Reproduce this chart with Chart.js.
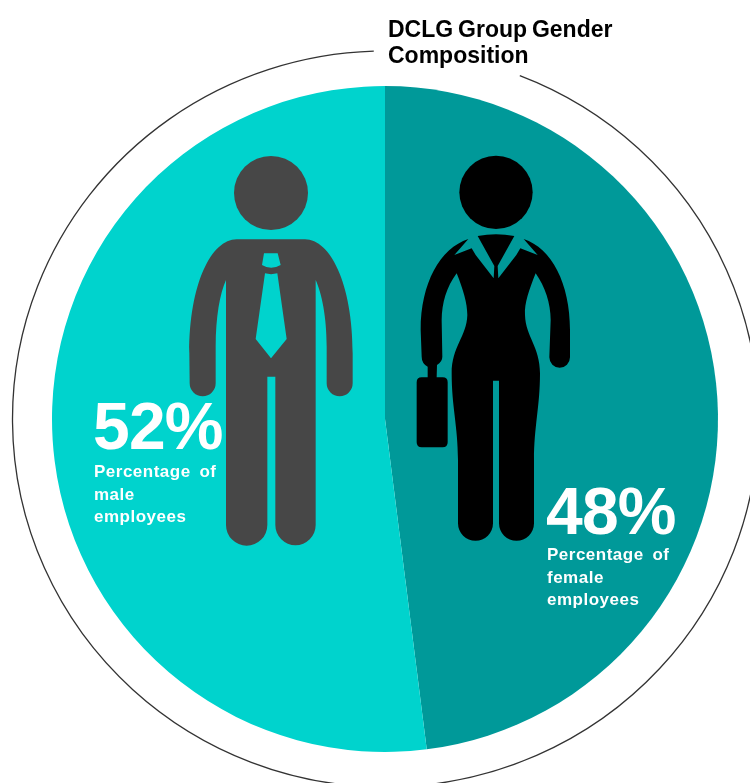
<!DOCTYPE html>
<html>
<head>
<meta charset="utf-8">
<title>DCLG Group Gender Composition</title>
<script src="https://cdn.jsdelivr.net/npm/chart.js@4"></script>
<style>
    html, body { margin: 0; padding: 0; background: #fff; }
    #wrap { position: relative; width: 750px; height: 783px; overflow: hidden; font-family: "Liberation Sans", Arial, sans-serif; font-weight: bold; }
    #wrap canvas { position: absolute; left: 0; top: 0; }
    .title { position: absolute; left: 388px; top: 16px; font-size: 23px; line-height: 26px; word-spacing: -1.5px; color: #000; white-space: nowrap; }
    .big { position: absolute; font-size: 66px; line-height: 66px; letter-spacing: -0.8px; color: #fff; }
    .note { position: absolute; font-size: 17px; line-height: 22.5px; letter-spacing: 0.5px; word-spacing: 3.5px; color: #fff; white-space: nowrap; }
</style>
</head>
<body>
<div id="wrap">
    <canvas id="genderChart" width="750" height="783"></canvas>
    <div class="title">DCLG Group Gender<br>Composition</div>
    <div class="big" id="maleValue" style="left:93px;top:393px"></div>
    <div class="note" style="left:94px;top:461px">Percentage of<br>male<br>employees</div>
    <div class="big" id="femaleValue" style="left:546px;top:478px"></div>
    <div class="note" style="left:547px;top:544px">Percentage of<br>female<br>employees</div>
</div>
<script>
const categories = ["Female", "Male"];
const shares = [48, 52];
const sliceColors = ["#009999", "#00D3CD"];

document.getElementById("femaleValue").textContent = shares[0] + "%";
document.getElementById("maleValue").textContent = shares[1] + "%";

// Icons are laid out on a 3x grid, placed with translate + scale
const manShape = new Path2D(
    "M170,298 L375,298 C450,298 518,430 518,640 L518,730 A39,39 0 0 1 440,730 L440,620 " +
    "C440,530 425,460 407,420 L407,1155 A60,60 0 0 1 286,1155 L286,710 L262,710 L262,1155 " +
    "A62,62 0 0 1 138,1155 L138,420 C120,460 107,530 107,620 L107,730 A39,39 0 0 1 29,730 " +
    "L28,640 C28,430 95,298 170,298 Z " +
    // tie knot and blade are holes in the body
    "M252,340 L293,340 L302,375 Q273,392 246,375 Z " +
    "M255,400 Q273,405 292,400 L320,597 L273,655 L227,597 Z"
);

const womanShape = new Path2D(
    "M190,297 L148,345 L200,325 L212,345 L266,415 L268,378 L218,288 Q273,278 328,288 " +
    "L278,378 L280,415 L334,345 L346,325 L398,345 L356,297 " +
    "C440,325 495,430 495,570 L495,652 A31,31 0 0 1 433,652 L437,540 " +
    "C437,490 420,440 392,400 C372,450 358,490 360,525 C362,590 405,620 405,700 " +
    "C405,800 387,860 387,960 L387,1150 A52.5,52.5 0 0 1 282,1150 L282,722 L264,722 L264,1150 " +
    "A52.5,52.5 0 0 1 159,1150 L159,960 C159,860 140,800 140,700 C140,620 185,590 187,525 " +
    "C187,490 175,450 155,400 C125,440 110,490 110,540 L112,650 Q112,665 96,675 " +
    "L95,712 L113,712 Q128,712 128,727 L128,907 Q128,922 113,922 L50,922 Q35,922 35,907 " +
    "L35,727 Q35,712 50,712 L68,712 L68,680 Q50,670 50,650 L47,570 C47,430 105,325 190,297 Z"
);

function drawIcon(ctx, shape, head, left, top, color) {
    ctx.save();
    ctx.translate(left, top);
    ctx.scale(1 / 3, 1 / 3);
    ctx.fillStyle = color;
    ctx.fill(shape, "evenodd");
    ctx.beginPath();
    ctx.arc(head.x, head.y, head.r, 0, Math.PI * 2);
    ctx.fill();
    ctx.restore();
}

// Thin outer ring with a gap for the heading, plus the two figures on the slices
const decorPlugin = {
    id: "decor",
    afterDatasetsDraw(chart) {
        const ctx = chart.ctx;
        const arc = chart.getDatasetMeta(0).data[0];
        const fromTop = deg => (deg - 90) * Math.PI / 180;

        ctx.save();
        ctx.strokeStyle = "#333";
        ctx.lineWidth = 1.3;
        ctx.beginPath();
        ctx.ellipse(arc.x + 0.5, arc.y, arc.outerRadius + 40, arc.outerRadius + 35, 0, fromTop(21.1), fromTop(358.2));
        ctx.stroke();
        ctx.restore();

        drawIcon(ctx, manShape, { x: 273, y: 159, r: 111 }, 180, 140, "#474747");
        drawIcon(ctx, womanShape, { x: 273, y: 157, r: 110 }, 405, 140, "#000");
    }
};

new Chart(document.getElementById("genderChart"), {
    type: "pie",
    plugins: [decorPlugin],
    data: {
        labels: categories,
        datasets: [{
            data: shares,
            backgroundColor: sliceColors,
            borderWidth: 0
        }]
    },
    options: {
        responsive: false,
        animation: false,
        layout: { padding: { left: 52, right: 32, top: 86, bottom: 31 } },
        plugins: {
            legend: { display: false },
            title: { display: false },
            tooltip: { enabled: false }
        }
    }
});
</script>
</body>
</html>
